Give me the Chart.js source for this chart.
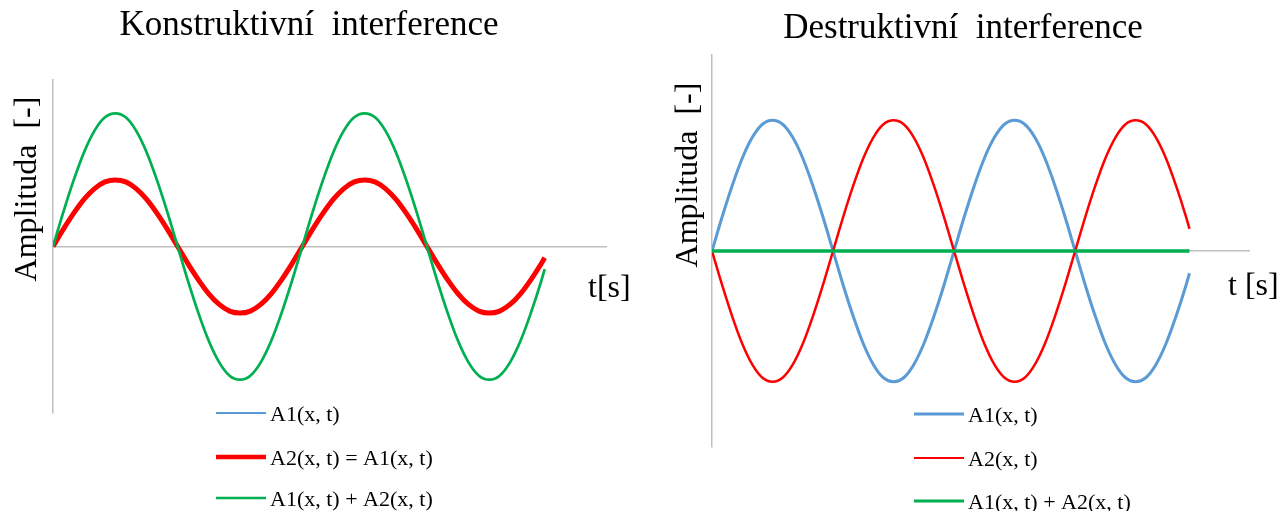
<!DOCTYPE html>
<html>
<head>
<meta charset="utf-8">
<script src="https://cdn.jsdelivr.net/npm/chart.js@4"></script>
<style>
body { margin: 0; background: #fff; width: 1284px; height: 511px; overflow: hidden; position: relative; }
.box { position: absolute; top: 0; width: 642px; height: 511px; }
</style>
</head>
<body>
<div class="box" style="left:0"><canvas id="chart-1" width="642" height="511"></canvas></div>
<div class="box" style="left:642px"><canvas id="chart-2" width="642" height="511"></canvas></div>
<script>
// time axis (phase in degrees)
var time_deg = [0, 15, 30, 45, 60, 75, 90, 105, 120, 135, 150, 165,
    180, 195, 210, 225, 240, 255, 270, 285, 300, 315, 330, 345,
    360, 375, 390, 405, 420, 435, 450, 465, 480, 495, 510, 525,
    540, 555, 570, 585, 600, 615, 630, 645, 660, 675, 690, 705, 710];

// Konstruktivni
var kon_a1 = [0, 0.26, 0.5, 0.71, 0.87, 0.97, 1, 0.97, 0.87, 0.71, 0.5, 0.26,
    0, -0.26, -0.5, -0.71, -0.87, -0.97, -1, -0.97, -0.87, -0.71, -0.5, -0.26,
    0, 0.26, 0.5, 0.71, 0.87, 0.97, 1, 0.97, 0.87, 0.71, 0.5, 0.26,
    0, -0.26, -0.5, -0.71, -0.87, -0.97, -1, -0.97, -0.87, -0.71, -0.5, -0.26, -0.17];
var kon_a2 = [0, 0.26, 0.5, 0.71, 0.87, 0.97, 1, 0.97, 0.87, 0.71, 0.5, 0.26,
    0, -0.26, -0.5, -0.71, -0.87, -0.97, -1, -0.97, -0.87, -0.71, -0.5, -0.26,
    0, 0.26, 0.5, 0.71, 0.87, 0.97, 1, 0.97, 0.87, 0.71, 0.5, 0.26,
    0, -0.26, -0.5, -0.71, -0.87, -0.97, -1, -0.97, -0.87, -0.71, -0.5, -0.26, -0.17];
var kon_sum = [0, 0.52, 1, 1.42, 1.74, 1.94, 2, 1.94, 1.74, 1.42, 1, 0.52,
    0, -0.52, -1, -1.42, -1.74, -1.94, -2, -1.94, -1.74, -1.42, -1, -0.52,
    0, 0.52, 1, 1.42, 1.74, 1.94, 2, 1.94, 1.74, 1.42, 1, 0.52,
    0, -0.52, -1, -1.42, -1.74, -1.94, -2, -1.94, -1.74, -1.42, -1, -0.52, -0.34];

// Destruktivni
var des_a1 = [0, 0.26, 0.5, 0.71, 0.87, 0.97, 1, 0.97, 0.87, 0.71, 0.5, 0.26,
    0, -0.26, -0.5, -0.71, -0.87, -0.97, -1, -0.97, -0.87, -0.71, -0.5, -0.26,
    0, 0.26, 0.5, 0.71, 0.87, 0.97, 1, 0.97, 0.87, 0.71, 0.5, 0.26,
    0, -0.26, -0.5, -0.71, -0.87, -0.97, -1, -0.97, -0.87, -0.71, -0.5, -0.26, -0.17];
var des_a2 = [0, -0.26, -0.5, -0.71, -0.87, -0.97, -1, -0.97, -0.87, -0.71, -0.5, -0.26,
    0, 0.26, 0.5, 0.71, 0.87, 0.97, 1, 0.97, 0.87, 0.71, 0.5, 0.26,
    0, -0.26, -0.5, -0.71, -0.87, -0.97, -1, -0.97, -0.87, -0.71, -0.5, -0.26,
    0, 0.26, 0.5, 0.71, 0.87, 0.97, 1, 0.97, 0.87, 0.71, 0.5, 0.26, 0.17];
var des_sum = [0, 0, 0, 0, 0, 0, 0, 0, 0, 0, 0, 0,
    0, 0, 0, 0, 0, 0, 0, 0, 0, 0, 0, 0,
    0, 0, 0, 0, 0, 0, 0, 0, 0, 0, 0, 0,
    0, 0, 0, 0, 0, 0, 0, 0, 0, 0, 0, 0, 0];

var kon_labels = ["A1(x, t)", "A2(x, t) = A1(x, t)", "A1(x, t) + A2(x, t)"];
var des_labels = ["A1(x, t)", "A2(x, t)", "A1(x, t) + A2(x, t)"];

const BLUE = '#5B9BD5';
const RED = '#FF0000';
const GREEN = '#00B050';
const AXIS = '#BFBFBF';
const SERIF = '"Liberation Serif", "Times New Roman", serif';

function toPoints(values) {
    return time_deg.map((t, i) => ({ x: t, y: values[i] }));
}

// axis labels + vertical legend, Excel style
const extraText = {
    id: 'extraText',
    afterDraw(chart, args, opts) {
        const c = chart.ctx;
        c.save();
        c.fillStyle = '#000';
        c.font = '32px ' + SERIF;

        c.save();
        c.translate(opts.yTitle.x, opts.yTitle.y);
        c.rotate(-Math.PI / 2);
        c.textAlign = 'center';
        c.textBaseline = 'middle';
        c.fillText(opts.yTitle.text, 0, 0);
        c.restore();

        c.textAlign = 'left';
        c.textBaseline = 'alphabetic';
        c.fillText(opts.xLabel.text, opts.xLabel.x, opts.xLabel.y);

        c.font = '22px ' + SERIF;
        c.textBaseline = 'middle';
        chart.data.datasets.forEach((ds, i) => {
            const y = opts.legend.rows[i];
            c.strokeStyle = ds.borderColor;
            c.lineWidth = ds.legendWidth || ds.borderWidth;
            c.beginPath();
            c.moveTo(opts.legend.x, y);
            c.lineTo(opts.legend.x + 50, y);
            c.stroke();
            c.fillText(ds.label, opts.legend.x + 54, y + 2);
        });
        c.restore();
    }
};

function makeChart(id, cfg) {
    const ctx = document.getElementById(id).getContext("2d");
    return new Chart(ctx, {
        type: "line",
        data: { datasets: cfg.datasets },
        options: {
            responsive: false,
            animation: false,
            events: [],
            layout: { padding: cfg.padding },
            elements: { point: { radius: 0 } },
            plugins: {
                legend: { display: false },
                tooltip: { enabled: false },
                title: {
                    display: true,
                    text: cfg.title,
                    color: '#000',
                    font: { family: SERIF, size: 35, weight: 'normal', lineHeight: 1.2 },
                    padding: cfg.titlePadding,
                },
                extraText: cfg.extra,
            },
            scales: {
                x: { type: 'linear', min: 0, max: 800, display: false },
                y: {
                    min: cfg.yMin,
                    max: cfg.yMax,
                    ticks: { display: false, stepSize: 0.5 },
                    grid: {
                        drawTicks: false,
                        lineWidth: 1.5,
                        color: (c) => (c.tick && c.tick.value === 0) ? AXIS : 'rgba(0,0,0,0)',
                    },
                    border: { display: true, color: AXIS, width: 1.5 },
                    afterFit: (scale) => { scale.width = cfg.axisWidth; },
                },
            },
        },
        plugins: [extraText],
    });
}

makeChart("chart-1", {
    title: "Konstruktivní  interference",
    titlePadding: { top: 5, bottom: 33 },
    padding: { left: 11, right: 35, top: 0, bottom: 98 },
    axisWidth: 42,
    yMin: -2.5,
    yMax: 2.5,
    datasets: [
        { label: kon_labels[0], data: toPoints(kon_a1), borderColor: BLUE, borderWidth: 2.5, legendWidth: 2, cubicInterpolationMode: 'monotone', order: 2 },
        { label: kon_labels[1], data: toPoints(kon_a2), borderColor: RED, borderWidth: 5, legendWidth: 4.5, cubicInterpolationMode: 'monotone', order: 1 },
        { label: kon_labels[2], data: toPoints(kon_sum), borderColor: GREEN, borderWidth: 2.75, legendWidth: 2.5, cubicInterpolationMode: 'monotone', order: 0 },
    ],
    extra: {
        yTitle: { text: "Amplituda  [-]", x: 28, y: 189 },
        xLabel: { text: "t[s]", x: 588, y: 297 },
        legend: { x: 216, rows: [413, 457, 498] },
    },
});

makeChart("chart-2", {
    title: "Destruktivní  interference",
    titlePadding: { top: 8, bottom: 5 },
    padding: { left: 34, right: 34, top: 0, bottom: 64 },
    axisWidth: 36,
    yMin: -1.5,
    yMax: 1.5,
    datasets: [
        { label: des_labels[0], data: toPoints(des_a1), borderColor: BLUE, borderWidth: 3, cubicInterpolationMode: 'monotone', order: 2 },
        { label: des_labels[1], data: toPoints(des_a2), borderColor: RED, borderWidth: 2.5, legendWidth: 2, cubicInterpolationMode: 'monotone', order: 1 },
        { label: des_labels[2], data: toPoints(des_sum), borderColor: GREEN, borderWidth: 3.5, legendWidth: 3, cubicInterpolationMode: 'monotone', order: 0 },
    ],
    extra: {
        yTitle: { text: "Amplituda  [-]", x: 47, y: 175 },
        xLabel: { text: "t [s]", x: 586, y: 295 },
        legend: { x: 272, rows: [414, 458, 501] },
    },
});
</script>
</body>
</html>
